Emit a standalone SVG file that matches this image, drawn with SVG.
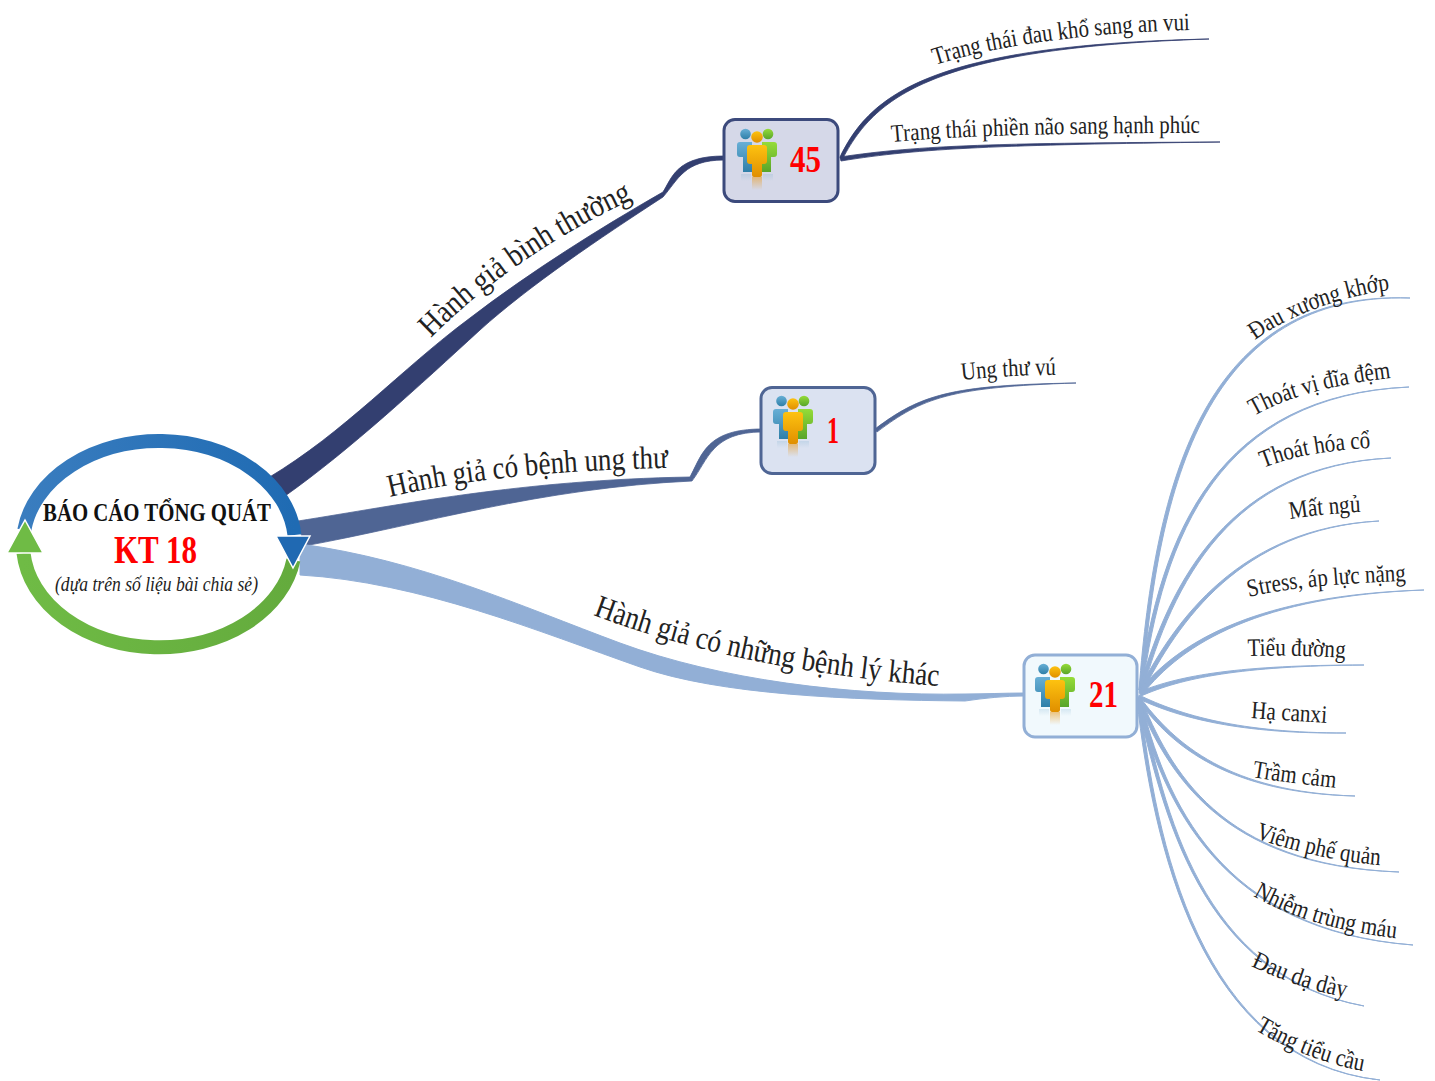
<svg xmlns="http://www.w3.org/2000/svg" xmlns:xlink="http://www.w3.org/1999/xlink" width="1435" height="1081" viewBox="0 0 1435 1081">
<style>
text{font-family:"Liberation Serif","Times New Roman",serif;fill:#222}
.big{font-size:32px}
.top{font-size:25px}
.leaf{font-size:25px}
.num{font-size:38px;font-weight:bold;fill:#f00}
.navy{fill:#333f70;stroke:#333f70;stroke-width:.8}
.mid{fill:#4f6594;stroke:#4f6594;stroke-width:.8}
.sky{fill:#92afd6;stroke:#92afd6;stroke-width:1}
.box{stroke-width:3}
</style>
<defs>
<linearGradient id="blueFig" x1="0" y1="0" x2="0" y2="1"><stop offset="0" stop-color="#68afd6"/><stop offset="1" stop-color="#2f7fa8"/></linearGradient>
<linearGradient id="greenFig" x1="0" y1="0" x2="0" y2="1"><stop offset="0" stop-color="#95dc38"/><stop offset="1" stop-color="#58a52a"/></linearGradient>
<linearGradient id="orangeFig" x1="0" y1="0" x2="0" y2="1"><stop offset="0" stop-color="#fdc210"/><stop offset="1" stop-color="#e08f00"/></linearGradient>
<linearGradient id="refl" x1="0" y1="0" x2="0" y2="1"><stop offset="0" stop-color="#e8a030" stop-opacity=".6"/><stop offset="1" stop-color="#e8a030" stop-opacity="0"/></linearGradient>
<linearGradient id="reflB" x1="0" y1="0" x2="0" y2="1"><stop offset="0" stop-color="#5a9cc0" stop-opacity=".18"/><stop offset="1" stop-color="#5a9cc0" stop-opacity="0"/></linearGradient>
<linearGradient id="ringBlue" x1="0" y1="0" x2="1" y2="0"><stop offset="0" stop-color="#3a7dbf"/><stop offset="1" stop-color="#1f6bb3"/></linearGradient>
<linearGradient id="ringGreen" x1="0" y1="0" x2="1" y2="0"><stop offset="0" stop-color="#6fbb45"/><stop offset="1" stop-color="#64ab3d"/></linearGradient>
<g id="people">
<rect x="-16" y="37" width="10" height="7" fill="url(#reflB)"/>
<rect x="6" y="37" width="10" height="7" fill="url(#reflB)"/>
<circle cx="-11.500" cy="-3" r="5.300" fill="url(#blueFig)"/>
<path d="M-20,8 Q-20,5 -17,5 H-5 V35 H-14 V20 H-17 Q-20,20 -20,17Z" fill="url(#blueFig)"/>
<circle cx="11" cy="-3" r="5.300" fill="url(#greenFig)"/>
<path d="M20,8 Q20,5 17,5 H5 V35 H14 V20 H17 Q20,20 20,17Z" fill="url(#greenFig)"/>
<circle cx="0" cy="0" r="5.800" fill="url(#orangeFig)"/>
<path d="M-10,11 Q-10,8 -7,8 H7 Q10,8 10,11 V24 Q10,27 7,27 H5 V38 Q5,40 3,40 H-3 Q-5,40 -5,38 V27 H-7 Q-10,27 -10,24Z" fill="url(#orangeFig)"/>
<rect x="-5" y="40" width="10" height="13" fill="url(#refl)"/>
</g>
<path id="p1" d="M431,338 C485,283 560,232 638,197"/>
<path id="p2" d="M390,497 C460,480 560,470 668,468"/>
<path id="p3" d="M593,615 C700,655 820,677 940,686"/>
<path id="t1" d="M935,65 C1000,44 1100,32 1190,30"/>
<path id="t2" d="M892,142 C980,134 1100,133 1199,133"/>
<path id="t3" d="M962,380 C990,377 1025,375 1056,375"/>
<path id="l1" d="M1255,340 C1290,315 1340,297 1389,290"/>
<path id="l2" d="M1254,416 C1290,395 1340,384 1390,378"/>
<path id="l3" d="M1263,468 C1292,456 1330,450 1371,448"/>
<path id="l4" d="M1290,519 C1315,515 1340,513 1361,512"/>
<path id="l5" d="M1249,597 C1290,587 1350,583 1406,581"/>
<path id="l6" d="M1248,656 C1280,655 1320,656 1345,658"/>
<path id="l7" d="M1251,718 C1275,720 1300,721 1327,723"/>
<path id="l8" d="M1252,777 C1280,782 1310,785 1336,788"/>
<path id="l9" d="M1255,838 C1295,852 1340,862 1379,865"/>
<path id="l10" d="M1253,896 C1295,920 1345,932 1394,938"/>
<path id="l11" d="M1251,966 C1280,980 1315,992 1345,997"/>
<path id="l12" d="M1255,1030 C1285,1048 1325,1064 1363,1071"/>
</defs>
<rect width="1435" height="1081" fill="#fff"/>
<g id="connectors">
<path class="navy" d="M268,478 C345,432 400,370 470,318 C530,272 600,228 663,192 C672,178 676,156 724,156 L724,160 C684,160 678,180 663,197 C600,238 530,285 480,330 C420,385 350,450 285,496Z"/>
<path class="mid" d="M298,521 C400,505 520,480 690,477 C702,455 706,429 762,429 L762,432 C712,432 708,460 692,481 C540,488 420,525 304,546Z"/>
<path class="sky" d="M300,544 C420,560 520,606 620,643 C720,680 850,696 965,694 C985,694 1005,693 1024,693 L1024,696 C1005,696 985,698 965,701 C850,700 720,695 640,667 C540,632 420,582 300,575Z"/>
<path class="navy" d="M840,157 C870,95 930,45 1209,39 C930,48 874,98 842,160Z"/>
<path class="navy" d="M840,157 C920,145 1000,143 1220,142 C1000,145 920,148 841,161Z"/>
<path class="mid" d="M875,429 C920,395 950,385 1076,383 C950,387 922,398 877,432Z"/>
<path class="sky" d="M1139,690 C1155,480 1205,290 1410,298 C1207,292 1158,482 1142,692Z"/>
<path class="sky" d="M1139,690 C1160,530 1220,395 1409,387 C1221,396 1163,532 1142,692Z"/>
<path class="sky" d="M1139,690 C1170,580 1230,465 1391,458 C1231,466 1173,582 1142,693Z"/>
<path class="sky" d="M1139,690 C1175,620 1240,528 1379,521 C1241,529 1178,622 1142,693Z"/>
<path class="sky" d="M1139,691 C1180,640 1260,595 1424,590 C1261,596 1182,643 1142,695Z"/>
<path class="sky" d="M1139,692 C1180,675 1240,665 1364,665 C1240,666 1182,678 1141,696Z"/>
<path class="sky" d="M1139,695 C1180,715 1240,733 1346,733 C1240,734 1180,718 1139,699Z"/>
<path class="sky" d="M1139,696 C1175,745 1230,792 1355,796 C1230,793 1173,748 1138,700Z"/>
<path class="sky" d="M1140,696 C1170,770 1220,865 1399,872 C1220,866 1168,772 1137,700Z"/>
<path class="sky" d="M1140,697 C1165,800 1220,930 1413,945 C1220,931 1163,802 1137,700Z"/>
<path class="sky" d="M1140,697 C1165,810 1200,975 1364,1006 C1199,976 1163,812 1137,701Z"/>
<path class="sky" d="M1140,698 C1155,840 1200,1060 1380,1080 C1199,1061 1153,842 1137,701Z"/>
</g>
<g id="root">
<ellipse cx="159" cy="544" rx="136" ry="103" fill="#fff"/>
<path d="M24.300,530 A136,103 0 0 1 294.500,535" fill="none" stroke="url(#ringBlue)" stroke-width="14"/>
<path d="M293.400,560 A136,103 0 0 1 23.500,553" fill="none" stroke="url(#ringGreen)" stroke-width="14"/>
<polygon points="276,536 310,536 293,568" fill="#2069b2" stroke="#fff" stroke-width="1.500"/>
<polygon points="7,553 43,553 25,520" fill="#6fbb45" stroke="#fff" stroke-width="1.500"/>
<text x="43" y="521" font-size="26" font-weight="bold" textLength="228" lengthAdjust="spacingAndGlyphs" style="fill:#111">BÁO CÁO TỔNG QUÁT</text>
<text x="114" y="563" font-size="40" font-weight="bold" textLength="83" lengthAdjust="spacingAndGlyphs" style="fill:#f00">KT 18</text>
<text x="55" y="591" font-size="21" font-style="italic" textLength="203" lengthAdjust="spacingAndGlyphs">(dựa trên số liệu bài chia sẻ)</text>
</g>
<g id="node-45">
<rect class="box" x="724" y="119.500" width="114" height="82" rx="11" fill="#d5d8e8" stroke="#3c4a7c"/>
<use href="#people" x="757" y="137"/>
<text class="num" x="790" y="172" textLength="31" lengthAdjust="spacingAndGlyphs">45</text>
</g>
<g id="node-1">
<rect class="box" x="761" y="387.500" width="114" height="86" rx="11" fill="#dbe2f1" stroke="#4f6594"/>
<use href="#people" x="793" y="404"/>
<text class="num" x="827" y="443" textLength="12" lengthAdjust="spacingAndGlyphs">1</text>
</g>
<g id="node-21">
<rect class="box" x="1024" y="655" width="113" height="82" rx="11" fill="#f1f9fd" stroke="#92afd6"/>
<use href="#people" x="1055" y="672"/>
<text class="num" x="1089" y="707" textLength="29" lengthAdjust="spacingAndGlyphs">21</text>
</g>
<g id="labels">
<text class="big"><textPath href="#p1" textLength="246" lengthAdjust="spacingAndGlyphs">Hành giả bình thường</textPath></text>
<text class="big"><textPath href="#p2" textLength="280" lengthAdjust="spacingAndGlyphs">Hành giả có bệnh ung thư</textPath></text>
<text class="big"><textPath href="#p3" textLength="354" lengthAdjust="spacingAndGlyphs">Hành giả có những bệnh lý khác</textPath></text>
<text class="top"><textPath href="#t1" textLength="258" lengthAdjust="spacingAndGlyphs">Trạng thái đau khổ sang an vui</textPath></text>
<text class="top"><textPath href="#t2" textLength="308" lengthAdjust="spacingAndGlyphs">Trạng thái phiền não sang hạnh phúc</textPath></text>
<text class="top"><textPath href="#t3" textLength="94" lengthAdjust="spacingAndGlyphs">Ung thư vú</textPath></text>
<text class="leaf"><textPath href="#l1" textLength="145" lengthAdjust="spacingAndGlyphs">Đau xương khớp</textPath></text>
<text class="leaf"><textPath href="#l2" textLength="143" lengthAdjust="spacingAndGlyphs">Thoát vị đĩa đệm</textPath></text>
<text class="leaf"><textPath href="#l3" textLength="110" lengthAdjust="spacingAndGlyphs">Thoát hóa cổ</textPath></text>
<text class="leaf"><textPath href="#l4" textLength="71" lengthAdjust="spacingAndGlyphs">Mất ngủ</textPath></text>
<text class="leaf"><textPath href="#l5" textLength="158" lengthAdjust="spacingAndGlyphs">Stress, áp lực nặng</textPath></text>
<text class="leaf"><textPath href="#l6" textLength="97" lengthAdjust="spacingAndGlyphs">Tiểu đường</textPath></text>
<text class="leaf"><textPath href="#l7" textLength="76" lengthAdjust="spacingAndGlyphs">Hạ canxi</textPath></text>
<text class="leaf"><textPath href="#l8" textLength="84" lengthAdjust="spacingAndGlyphs">Trầm cảm</textPath></text>
<text class="leaf"><textPath href="#l9" textLength="128" lengthAdjust="spacingAndGlyphs">Viêm phế quản</textPath></text>
<text class="leaf"><textPath href="#l10" textLength="150" lengthAdjust="spacingAndGlyphs">Nhiễm trùng máu</textPath></text>
<text class="leaf"><textPath href="#l11" textLength="100" lengthAdjust="spacingAndGlyphs">Đau dạ dày</textPath></text>
<text class="leaf"><textPath href="#l12" textLength="116" lengthAdjust="spacingAndGlyphs">Tăng tiểu cầu</textPath></text>
</g>
</svg>
